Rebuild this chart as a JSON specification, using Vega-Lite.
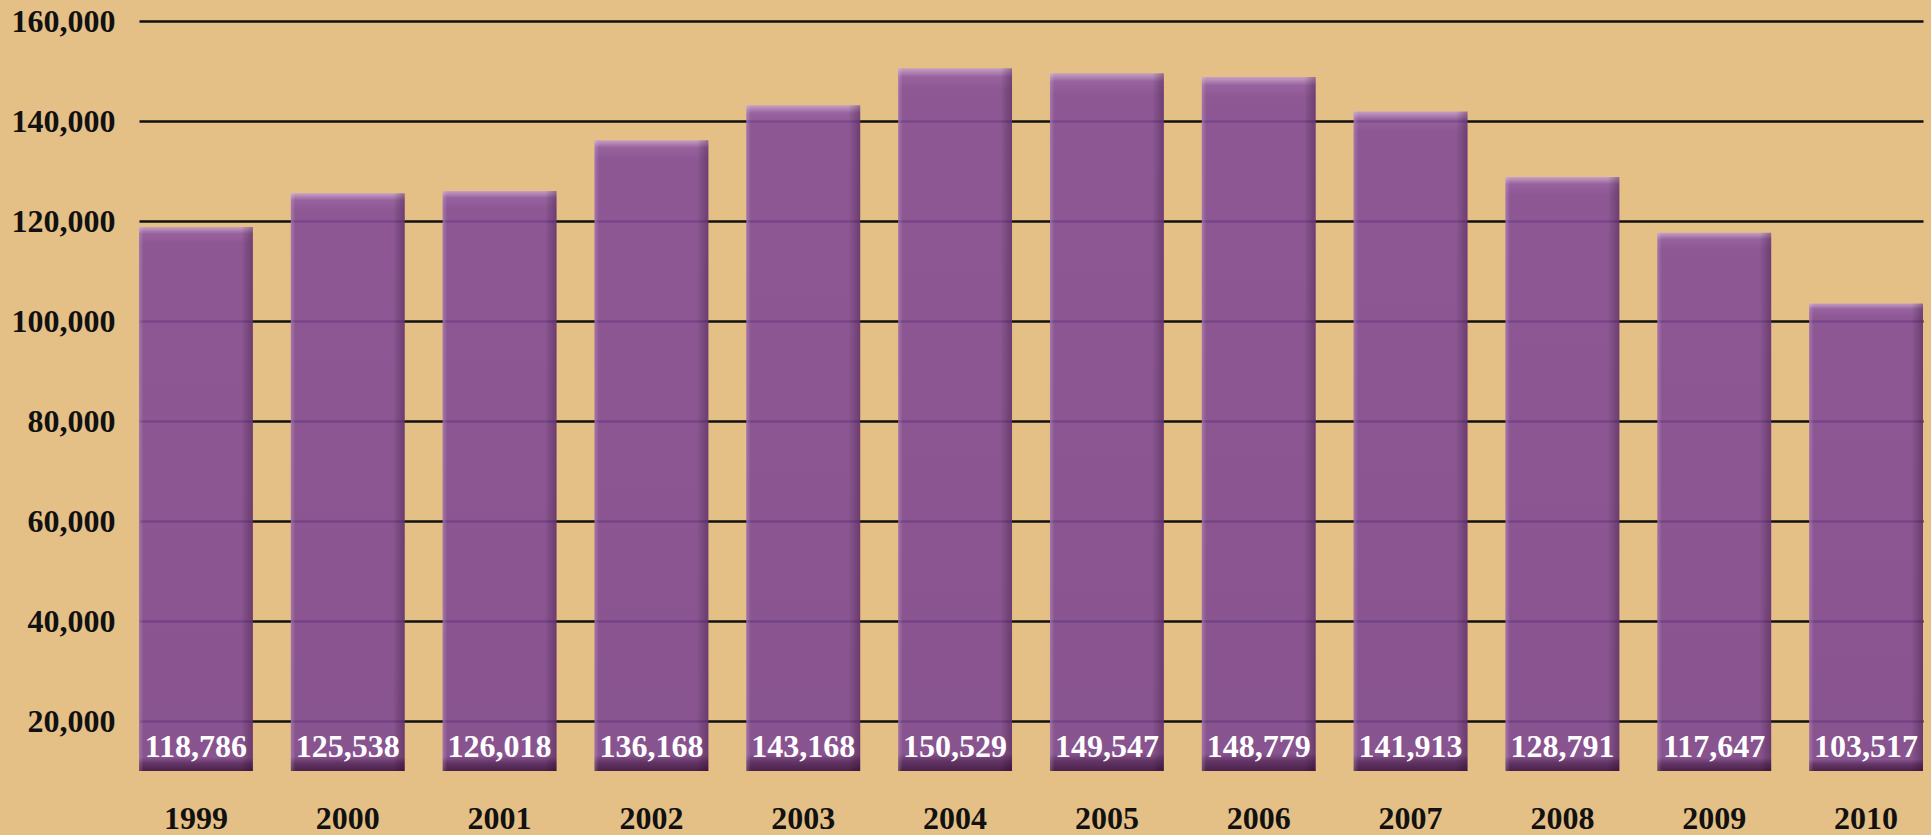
{
  "$schema": "https://vega.github.io/schema/vega-lite/v6.json",
  "autosize": {"type": "none"},
  "width": 1784,
  "height": 750,
  "padding": {"left": 139, "top": 21, "right": 8, "bottom": 64},
  "background": "#e4bf86",
  "config": {
    "view": {"stroke": null},
    "font": "Liberation Serif"
  },
  "data": {
    "values": [
      {"year": "1999", "value": 118786},
      {"year": "2000", "value": 125538},
      {"year": "2001", "value": 126018},
      {"year": "2002", "value": 136168},
      {"year": "2003", "value": 143168},
      {"year": "2004", "value": 150529},
      {"year": "2005", "value": 149547},
      {"year": "2006", "value": 148779},
      {"year": "2007", "value": 141913},
      {"year": "2008", "value": 128791},
      {"year": "2009", "value": 117647},
      {"year": "2010", "value": 103517}
    ]
  },
  "encoding": {
    "x": {
      "field": "year",
      "type": "ordinal",
      "scale": {"paddingInner": 0.25, "paddingOuter": 0},
      "axis": {
        "title": null,
        "labelAngle": 0,
        "ticks": false,
        "domain": false,
        "labelFont": "Liberation Serif",
        "labelFontWeight": "bold",
        "labelFontSize": 32,
        "labelColor": "#111111",
        "labelPadding": 32
      }
    }
  },
  "layer": [
    {
      "mark": {
        "type": "bar",
        "opacity": 0.9,
        "color": {
          "gradient": "linear",
          "x1": 0, "y1": 0, "x2": 0, "y2": 1,
          "stops": [
            {"offset": 0, "color": "#c39ccb"},
            {"offset": 0.012, "color": "#8f58a0"},
            {"offset": 0.03, "color": "#844c96"},
            {"offset": 0.975, "color": "#7e4890"},
            {"offset": 0.986, "color": "#552662"},
            {"offset": 1, "color": "#381043"}
          ]
        }
      },
      "encoding": {
        "y": {
          "field": "value",
          "type": "quantitative",
          "scale": {"domain": [10000, 160000], "nice": false, "zero": false},
          "axis": {
            "title": null,
            "values": [20000, 40000, 60000, 80000, 100000, 120000, 140000, 160000],
            "format": ",.0f",
            "ticks": false,
            "domain": false,
            "grid": true,
            "gridColor": "#111111",
            "gridWidth": 2.5,
            "gridOpacity": 1,
            "labelFont": "Liberation Serif",
            "labelFontWeight": "bold",
            "labelFontSize": 32,
            "labelColor": "#111111",
            "labelPadding": 24
          }
        },
        "y2": {"datum": 10000}
      }
    },
    {
      "mark": {
        "type": "bar",
        "color": {
          "gradient": "linear",
          "x1": 0, "y1": 0, "x2": 1, "y2": 0,
          "stops": [
            {"offset": 0, "color": "rgba(255,220,255,0.22)"},
            {"offset": 0.04, "color": "rgba(255,255,255,0)"},
            {"offset": 0.9, "color": "rgba(0,0,0,0)"},
            {"offset": 1, "color": "rgba(40,0,40,0.3)"}
          ]
        }
      },
      "encoding": {
        "y": {"field": "value", "type": "quantitative"},
        "y2": {"datum": 10000}
      }
    },
    {
      "mark": {
        "type": "text",
        "color": "#ffffff",
        "font": "Liberation Serif",
        "fontWeight": "bold",
        "fontSize": 32,
        "baseline": "alphabetic",
        "dy": -14
      },
      "encoding": {
        "y": {"datum": 10000},
        "text": {"field": "value", "type": "quantitative", "format": ","}
      }
    }
  ]
}
